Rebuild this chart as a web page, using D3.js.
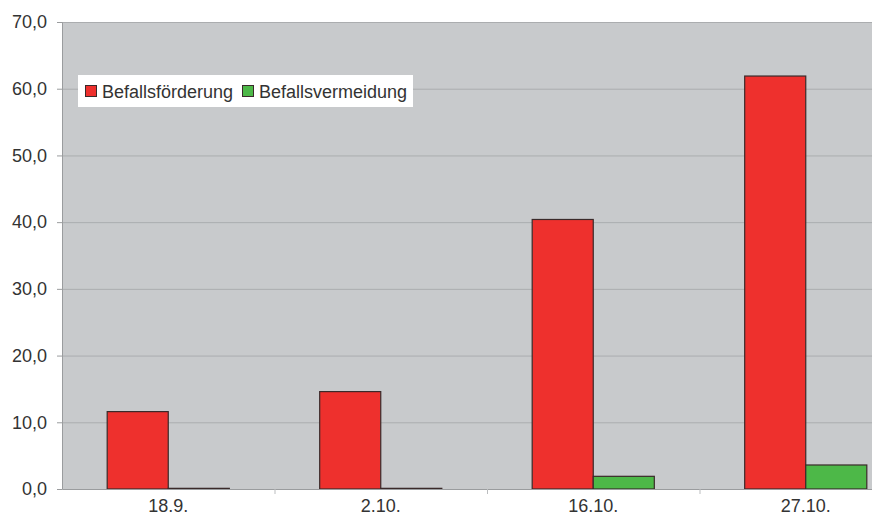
<!DOCTYPE html>
<html>
<head>
<meta charset="utf-8">
<script src="https://cdn.jsdelivr.net/npm/d3@7"></script>
<style>
  body { margin: 0; background: #fff; }
  svg { font-family: "Liberation Sans", Arial, sans-serif; }
  .axis text { fill: #333; font-size: 18px; }
</style>
</head>
<body>
<svg id="main"></svg>
<script>
var dates = ["18.9.", "2.10.", "16.10.", "27.10."];
var seriesNames = ["Befallsförderung", "Befallsvermeidung"];
var foerderung = [11.6, 14.6, 40.4, 61.9];
var vermeidung = [0.1, 0.1, 1.9, 3.6];
var yTicks = [0, 10, 20, 30, 40, 50, 60, 70];
var colors = ["#ee302d", "#4db848"];

var w = 872;
var h = 525;
var plotLeft = 62;
var plotTop = 22;
var plotBottom = 489;
var plotRight = plotLeft + 850; // plot area runs past the picture edge

var svg = d3.select("#main")
  .attr("width", w)
  .attr("height", h);

var rows = dates.map(function(d, i) {
  return { date: d, values: [foerderung[i], vermeidung[i]] };
});

var x0 = d3.scaleBand()
  .domain(dates)
  .range([plotLeft, plotRight])
  .paddingInner(0)
  .paddingOuter(0);

var x1 = d3.scaleBand()
  .domain([0, 1])
  .range([0, x0.bandwidth()])
  .paddingInner(0)
  .paddingOuter(0.74);

var y = d3.scaleLinear()
  .domain([0, 70])
  .range([plotBottom, plotTop]);

// plot background
svg.append("rect")
  .attr("x", plotLeft)
  .attr("y", plotTop)
  .attr("width", plotRight - plotLeft)
  .attr("height", plotBottom - plotTop)
  .attr("fill", "#c8cacc");

// grid lines
svg.append("g")
  .selectAll("line")
  .data(yTicks.slice(1))
  .enter()
  .append("line")
  .attr("x1", plotLeft)
  .attr("x2", plotRight)
  .attr("y1", function(d) { return y(d) + 0.5; })
  .attr("y2", function(d) { return y(d) + 0.5; })
  .attr("stroke", "#abadaf")
  .attr("stroke-width", 1);

// bars
var groups = svg.append("g")
  .selectAll("g")
  .data(rows)
  .enter()
  .append("g")
  .attr("transform", function(d) { return "translate(" + x0(d.date) + ",0)"; });

groups.selectAll("rect")
  .data(function(d) { return d.values; })
  .enter()
  .append("rect")
  .attr("x", function(d, i) { return x1(i); })
  .attr("y", function(d) { return y(d); })
  .attr("width", x1.bandwidth())
  .attr("height", function(d) { return y(0) - y(d); })
  .attr("fill", function(d, i) { return colors[i]; })
  .attr("stroke", "#3a2a2a")
  .attr("stroke-width", 1.2);

// y axis
var yAxis = d3.axisLeft(y)
  .tickValues(yTicks)
  .tickFormat(function(d) { return d3.format(".1f")(d).replace(".", ","); })
  .tickSize(5)
  .tickPadding(10);

var ya = svg.append("g")
  .attr("class", "axis")
  .attr("transform", "translate(" + plotLeft + ",0)")
  .call(yAxis);
ya.select(".domain").attr("stroke", "#9a9c9e");
ya.selectAll(".tick line").attr("stroke", "#9a9c9e");

// x axis
var xAxis = d3.axisBottom(x0)
  .tickSize(0)
  .tickPadding(10);

var xa = svg.append("g")
  .attr("class", "axis")
  .attr("transform", "translate(0," + plotBottom + ")")
  .call(xAxis);
xa.select(".domain").attr("stroke", "#9a9c9e");

// category separator ticks
xa.selectAll(".sep")
  .data(dates.slice(1))
  .enter()
  .append("line")
  .attr("class", "sep")
  .attr("x1", function(d) { return x0(d) + 0.5; })
  .attr("x2", function(d) { return x0(d) + 0.5; })
  .attr("y1", 0)
  .attr("y2", 5)
  .attr("stroke", "#bbbdbf");

// legend
var legend = svg.append("g")
  .attr("transform", "translate(78,75)");

legend.append("rect")
  .attr("width", 335)
  .attr("height", 32)
  .attr("fill", "#fff");

var items = legend.selectAll(".item")
  .data(seriesNames)
  .enter()
  .append("g")
  .attr("class", "item")
  .attr("transform", function(d, i) { return "translate(" + (i === 0 ? 7 : 164) + ",0)"; });

items.append("rect")
  .attr("x", 0.5)
  .attr("y", 10.5)
  .attr("width", 11)
  .attr("height", 11)
  .attr("fill", function(d, i) { return colors[i]; })
  .attr("stroke", "#3a2a2a")
  .attr("stroke-width", 1);

items.append("text")
  .attr("x", 17)
  .attr("y", 23)
  .attr("font-size", "18px")
  .attr("fill", "#333")
  .text(function(d) { return d; });
</script>
</body>
</html>
